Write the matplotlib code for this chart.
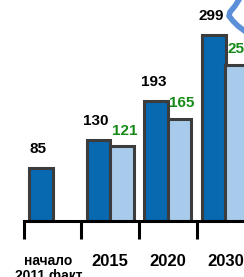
import matplotlib
matplotlib.use("Agg")
import matplotlib.pyplot as plt
import numpy as np

plt.rcParams['font.family'] = ['Liberation Sans', 'DejaVu Sans']

categories = ["начало\n2011 факт", "2015", "2020", "2030"]
fact_values = [85, 130, 193, 299]
plan_values = [None, 121, 165, 252]

dark_blue = "#0868b0"
light_blue = "#a8cbeb"
edge_gray = "#3c3c3c"
green = "#168a16"

fig = plt.figure(figsize=(2.44, 2.77), dpi=100)
ax = fig.add_axes([0, 56 / 277, 1, 221 / 277])

x = np.arange(len(categories))
w = 0.41
off = 0.2

ax.bar(x - off, fact_values, width=w, color=dark_blue, edgecolor=edge_gray, linewidth=2.2, zorder=2)
plan_x = [xi + off for xi, v in zip(x, plan_values) if v is not None]
plan_v = [v for v in plan_values if v is not None]
ax.bar(plan_x, plan_v, width=w, color=light_blue, edgecolor=edge_gray, linewidth=2.2, zorder=2)

for xi, v in zip(x, fact_values):
    ax.annotate(str(v), (xi - off, v), xytext=(-2, 14), textcoords="offset points",
                ha="center", va="center", fontsize=11, fontweight="bold", color="black")
for xi, v in zip(plan_x, plan_v):
    ax.annotate(str(v), (xi, v), xytext=(2, 11), textcoords="offset points",
                ha="center", va="center", fontsize=11, fontweight="bold", color=green)

for s in ["top", "right", "left"]:
    ax.spines[s].set_visible(False)
ax.spines["bottom"].set_linewidth(2.2)
ax.spines["bottom"].set_bounds(-0.5, 3.5)
ax.spines["bottom"].set_zorder(3)

ax.set_yticks([])
ax.set_xticks(np.arange(-0.5, len(categories), 1.0))
ax.set_xticklabels([])
ax.tick_params(axis="x", which="major", direction="out", length=13, width=2.2, color="black")

# category labels below the axis (first one sits a bit left of centre)
for xi, t in zip(x, categories):
    two_lines = "\n" in t
    ax.annotate(t, (xi, 0), xycoords=("data", "axes fraction"),
                xytext=(-3 if two_lines else 0, -24), textcoords="offset points",
                ha="center", va="top", fontsize=10 if two_lines else 12,
                fontweight="bold", linespacing=1.1, annotation_clip=False)

ax.set_xlim(-0.91, 3.32)
ax.set_ylim(0, 356)

# decorative arrow stroke at the top right
sx = np.array([240, 235, 230, 229, 233, 238, 246])
sy = 277 - np.array([-2, 6, 12, 16, 21, 26, 32])
fig.add_artist(plt.Line2D(sx / 244, sy / 277, color="#5b8fd8", linewidth=4,
                          solid_capstyle="round", solid_joinstyle="round",
                          transform=fig.transFigure))

fig.savefig("out.png", dpi=100)
